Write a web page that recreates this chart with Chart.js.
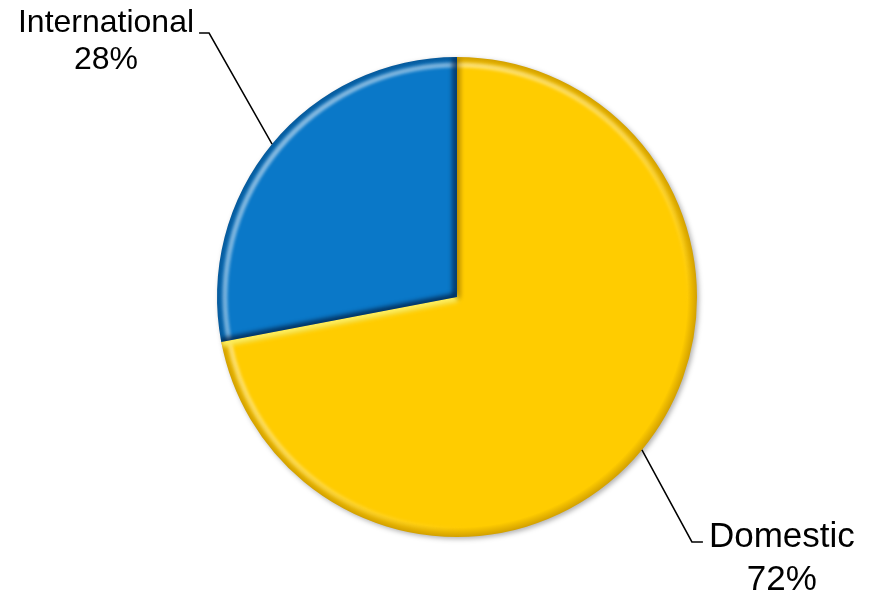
<!DOCTYPE html>
<html>
<head>
<meta charset="utf-8">
<script src="https://cdn.jsdelivr.net/npm/chart.js@4.4.1/dist/chart.umd.min.js"></script>
<style>
  html, body { margin: 0; padding: 0; background: #fff; }
  #wrap { width: 882px; height: 595px; }
</style>
</head>
<body>
<div id="wrap"><canvas id="pie" width="882" height="595"></canvas></div>
<script>
const categories = ['Domestic', 'International'];
const shares = [72, 28];
const baseColors = ['#FFCC00', '#0A78C8'];
const darkColors = ['#D2A000', '#06599A'];

// leader line elbow relative to the rim point, and label font sizes
const elbowOffsets = [[50, 92], [-63, -111]];
const labelSizes = [35, 32];
const lineGaps = [43, 37];

function rimGradient(context) {
    const chart = context.chart;
    const area = chart.chartArea;
    if (!area) return baseColors[context.dataIndex];
    const cx = (area.left + area.right) / 2;
    const cy = (area.top + area.bottom) / 2;
    const r = Math.min(area.right - area.left, area.bottom - area.top) / 2;
    const i = context.dataIndex;
    const g = chart.ctx.createRadialGradient(cx, cy, 0, cx, cy, r);
    g.addColorStop(0, baseColors[i]);
    g.addColorStop(0.96, baseColors[i]);
    g.addColorStop(1, darkColors[i]);
    return g;
}

function slicePath(ctx, p) {
    ctx.beginPath();
    ctx.moveTo(p.x, p.y);
    ctx.arc(p.x, p.y, p.outerRadius, p.startAngle, p.endAngle);
    ctx.closePath();
}

const bevelPlugin = {
    id: 'bevel',
    beforeDatasetsDraw(chart) {
        const ctx = chart.ctx;
        ctx.save();
        ctx.shadowColor = 'rgba(0,0,0,0.3)';
        ctx.shadowBlur = 5;
        ctx.shadowOffsetX = 2;
        ctx.shadowOffsetY = 2;
    },
    afterDatasetsDraw(chart) {
        const ctx = chart.ctx;
        ctx.restore();
        chart.getDatasetMeta(0).data.forEach((arc, i) => {
            const p = arc.getProps(['x', 'y', 'startAngle', 'endAngle', 'outerRadius']);
            ctx.save();
            slicePath(ctx, p);
            ctx.clip();
            // light rim band, lit from the upper left
            const lg = ctx.createLinearGradient(p.x - p.outerRadius, p.y - p.outerRadius,
                                                p.x + p.outerRadius, p.y + p.outerRadius);
            lg.addColorStop(0, 'rgba(255,255,255,0.6)');
            lg.addColorStop(0.5, 'rgba(255,255,255,0.3)');
            lg.addColorStop(0.75, 'rgba(255,255,255,0)');
            ctx.strokeStyle = lg;
            ctx.lineWidth = 5;
            ctx.filter = 'blur(1.5px)';
            ctx.beginPath();
            ctx.arc(p.x, p.y, p.outerRadius - 8, p.startAngle, p.endAngle);
            ctx.stroke();
            // straight edges: yellow gets a bright ridge, blue a dark crease
            ctx.filter = 'blur(2px)';
            ctx.lineWidth = 10;
            ctx.strokeStyle = i === 0 ? 'rgba(255,238,90,1)' : 'rgba(0,25,60,0.6)';
            ctx.beginPath();
            ctx.moveTo(p.x, p.y);
            ctx.lineTo(p.x + Math.cos(p.endAngle) * p.outerRadius, p.y + Math.sin(p.endAngle) * p.outerRadius);
            ctx.stroke();
            ctx.lineWidth = 8;
            ctx.strokeStyle = i === 0 ? 'rgba(170,120,0,0.35)' : 'rgba(0,25,60,0.7)';
            ctx.beginPath();
            ctx.moveTo(p.x, p.y);
            ctx.lineTo(p.x + Math.cos(p.startAngle) * p.outerRadius, p.y + Math.sin(p.startAngle) * p.outerRadius);
            ctx.stroke();
            ctx.restore();
        });
    }
};

const labelPlugin = {
    id: 'leaderLabels',
    afterDraw(chart) {
        const ctx = chart.ctx;
        const meta = chart.getDatasetMeta(0);
        ctx.save();
        ctx.fillStyle = '#000';
        ctx.strokeStyle = '#000';
        ctx.lineWidth = 1.5;
        meta.data.forEach((arc, i) => {
            const p = arc.getProps(['x', 'y', 'startAngle', 'endAngle', 'outerRadius']);
            const mid = (p.startAngle + p.endAngle) / 2;
            const ex = p.x + Math.cos(mid) * p.outerRadius;
            const ey = p.y + Math.sin(mid) * p.outerRadius;
            const bx = ex + elbowOffsets[i][0];
            const by = ey + elbowOffsets[i][1];
            const right = bx > p.x;
            const tickEnd = right ? bx + 11 : bx - 10;
            ctx.beginPath();
            ctx.moveTo(ex, ey);
            ctx.lineTo(bx, by);
            ctx.lineTo(tickEnd, by);
            ctx.stroke();
            ctx.font = labelSizes[i] + 'px "Liberation Sans", Arial, sans-serif';
            const name = categories[i];
            const pct = shares[i] + '%';
            const w = ctx.measureText(name).width;
            const left = right ? tickEnd + 6 : tickEnd - 5 - w;
            const base = right ? by + 5 : by - 1;
            ctx.textBaseline = 'alphabetic';
            ctx.textAlign = 'left';
            ctx.fillText(name, left, base);
            ctx.textAlign = 'center';
            ctx.fillText(pct, left + w / 2, base + lineGaps[i]);
        });
        ctx.restore();
    }
};

new Chart(document.getElementById('pie'), {
    type: 'pie',
    data: {
        labels: categories,
        datasets: [{
            data: shares,
            backgroundColor: rimGradient,
            borderWidth: 0,
        }],
    },
    options: {
        responsive: false,
        animation: false,
        layout: {
            padding: { top: 57, bottom: 58, left: 32, right: 0 },
        },
        plugins: {
            legend: { display: false },
            tooltip: { enabled: false },
        },
    },
    plugins: [bevelPlugin, labelPlugin],
});
</script>
</body>
</html>
